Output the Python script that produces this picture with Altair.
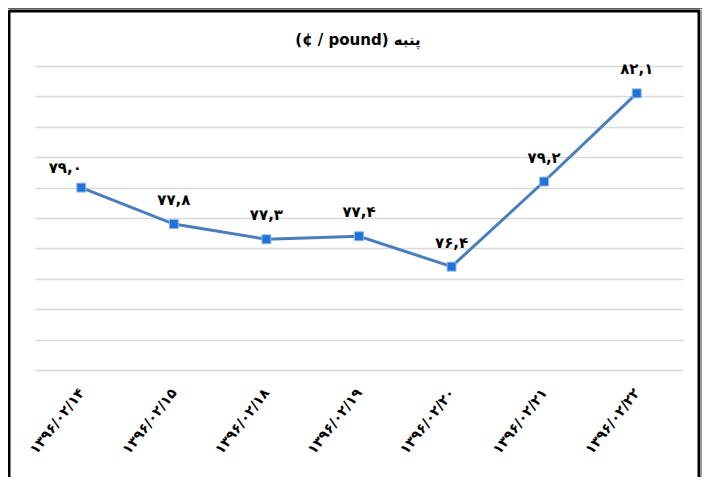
import altair as alt
import pandas as pd

dates = ["۱۳۹۶/۰۲/۱۴", "۱۳۹۶/۰۲/۱۵", "۱۳۹۶/۰۲/۱۸", "۱۳۹۶/۰۲/۱۹",
         "۱۳۹۶/۰۲/۲۰", "۱۳۹۶/۰۲/۲۱", "۱۳۹۶/۰۲/۲۲"]
values = [79.0, 77.8, 77.3, 77.4, 76.4, 79.2, 82.1]
labels = ["۷۹,۰", "۷۷,۸", "۷۷,۳", "۷۷,۴", "۷۶,۴", "۷۹,۲", "۸۲,۱"]
title_text = "(¢ / pound) پنبه"

df = pd.DataFrame({"date": dates, "value": values, "label": labels,
                   "idx": list(range(len(dates)))})

FONT = "DejaVu Sans"

x = alt.X("date:N", sort=dates, title=None,
          scale=alt.Scale(paddingOuter=0.5, paddingInner=0),
          axis=alt.Axis(labelAngle=-52, labelFontSize=14, labelFont=FONT,
                        labelFontWeight="bold", labelColor="black",
                        labelPadding=20, ticks=False, domain=False, grid=False,
                        labelAlign="right", labelBaseline="middle"))
y = alt.Y("value:Q", title=None,
          scale=alt.Scale(domain=[73, 83], nice=False, zero=False),
          axis=alt.Axis(values=list(range(73, 84)), labels=False, ticks=False,
                        domain=False, grid=True, gridColor="#d9d9d9",
                        gridWidth=1.5))

base = alt.Chart(df)

line = base.mark_line(color="#4a7ebb", strokeWidth=3).encode(x=x, y=y)
pts = base.mark_square(size=80, filled=True, color="#1f72d8", stroke="#8fb7ea",
                       strokeWidth=1, opacity=1).encode(x=x, y=y)
txt = base.mark_text(dy=-24, fontSize=15, font=FONT, fontWeight="bold",
                     color="black").encode(x=x, y=y, text="label:N").transform_filter(
    alt.datum.idx > 0)
txt0 = base.mark_text(dy=-20, dx=-16, fontSize=15, font=FONT, fontWeight="bold",
                      color="black").encode(x=x, y=y, text="label:N").transform_filter(
    alt.datum.idx == 0)

title = alt.Chart(pd.DataFrame({"t": [title_text]})).mark_text(
    fontSize=15, font=FONT, fontWeight="bold", color="black"
).encode(text="t:N", x=alt.value(323), y=alt.value(-26))

# frame decoration
frame_df = pd.DataFrame({"k": [0]})
fr = alt.Chart(frame_df)
top_box = fr.mark_rule(color="#606060", strokeWidth=1).encode(
    x=alt.value(-27), x2=alt.value(668), y=alt.value(-57.5))
top_main = fr.mark_rule(color="black", strokeWidth=3).encode(
    x=alt.value(-26), x2=alt.value(665), y=alt.value(-55))
left_b = fr.mark_rule(color="black", strokeWidth=3).encode(
    x=alt.value(-26), y=alt.value(-56), y2=alt.value(420))
right_b = fr.mark_rule(color="black", strokeWidth=3).encode(
    x=alt.value(664), y=alt.value(-56), y2=alt.value(420))
right_sh = fr.mark_rule(color="#a0a0a0", strokeWidth=2).encode(
    x=alt.value(666.5), y=alt.value(-56), y2=alt.value(420))

chart = alt.layer(line, pts, txt, txt0, title,
                  top_box, top_main, left_b, right_b, right_sh).properties(
    width=648, height=304,
    autosize=alt.AutoSizeParams(type="none"),
    padding={"left": 27, "top": 58, "right": 19, "bottom": 107},
    background="white",
).configure_view(stroke=None)

chart.save("out.html", embed_options={"renderer": "svg", "actions": False})
